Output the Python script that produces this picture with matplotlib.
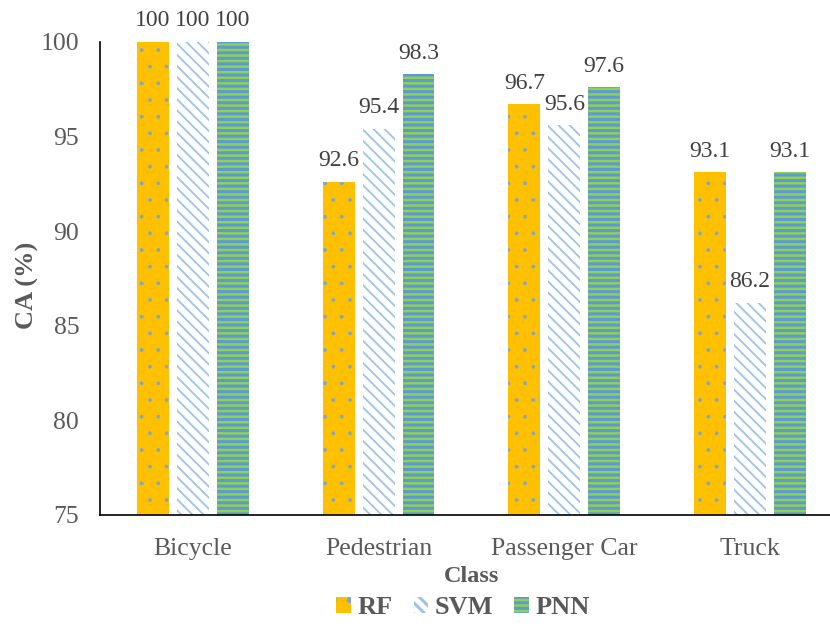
import matplotlib.pyplot as plt
import numpy as np

classes = ['Bicycle', 'Pedestrian', 'Passenger Car', 'Truck']
rf = [100, 92.6, 96.7, 93.1]
svm = [100, 95.4, 95.6, 86.2]
pnn = [100, 98.3, 97.6, 93.1]

plt.rcParams['font.family'] = ['Liberation Serif', 'DejaVu Serif']
grey = '#595959'

fig = plt.figure(figsize=(8.3, 6.24), dpi=100)
ax = fig.add_axes([0.1205, 0.175, 0.895, 0.758])

x = np.arange(len(classes))
barWidth = 0.172
step = 0.215

plt.rcParams['hatch.linewidth'] = 0.3
b1 = ax.bar(x - step, rf, barWidth, color='#FFC000', edgecolor='#7FA7C9',
            linewidth=0, hatch='.', label='RF')
plt.rcParams['hatch.linewidth'] = 1.3
b2 = ax.bar(x, svm, barWidth, color='white', edgecolor='#9DC3E6',
            linewidth=0, hatch='\\\\\\', label='SVM')
plt.rcParams['hatch.linewidth'] = 2.2
b3 = ax.bar(x + step, pnn, barWidth, color='#92D050', edgecolor='#5B9BD5',
            linewidth=0, hatch='---', label='PNN')

for bars, vals in [(b1, rf), (b2, svm), (b3, pnn)]:
    for b, v in zip(bars, vals):
        ax.text(b.get_x() + b.get_width() / 2, v + 0.55, '%g' % v,
                ha='center', va='bottom', fontsize=17, color='#404040')

ax.set_xlim(-0.5, 3.5)
ax.set_ylim(75, 100)
ax.set_yticks([75, 80, 85, 90, 95, 100])
ax.set_xticks(x)
ax.set_xticklabels(classes)
ax.tick_params(axis='both', length=0, labelsize=18.5, colors=grey)
ax.tick_params(axis='y', pad=15)
ax.tick_params(axis='x', pad=17)
for s in ['top', 'right']:
    ax.spines[s].set_visible(False)
ax.spines['left'].set_color('black')
ax.spines['bottom'].set_color('black')
ax.spines['left'].set_linewidth(1.2)
ax.spines['bottom'].set_linewidth(1.2)

ax.set_xlabel('Class', fontsize=17.5, fontweight='bold', color=grey, labelpad=4)
ax.set_ylabel('CA (%)', fontsize=19, fontweight='bold', color=grey)
ax.yaxis.set_label_coords(-0.082, 0.485)

leg = fig.legend(handles=[b1, b2, b3], loc='center', bbox_to_anchor=(0.558, 0.026),
                 ncol=3, frameon=False, handlelength=0.55, handleheight=0.55,
                 handletextpad=0.25, columnspacing=0.8,
                 prop={'size': 19, 'weight': 'bold'})
for t in leg.get_texts():
    t.set_color(grey)

plt.savefig('out.png', dpi=100)
